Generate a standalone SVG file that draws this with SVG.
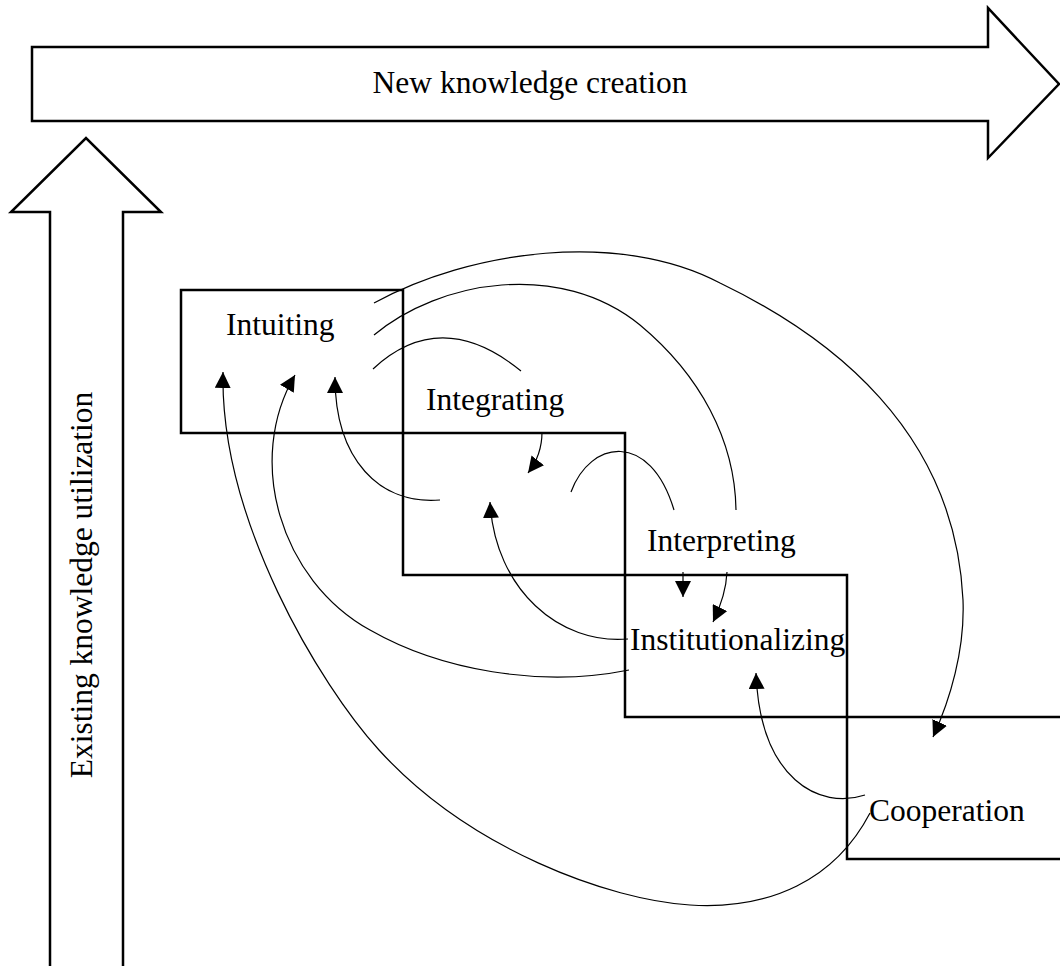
<svg xmlns="http://www.w3.org/2000/svg" width="1060" height="966" viewBox="0 0 1060 966">
<style>
.blk{fill:#fff;stroke:#000;stroke-width:2.5;stroke-linejoin:miter}
.box{fill:none;stroke:#000;stroke-width:2.5}
.lbl{font-family:"Liberation Serif","Times New Roman",serif;font-size:31.5px;fill:#000}
.c{fill:none;stroke:#000;stroke-width:1.2}
.a{marker-end:url(#ah)}
</style>
<defs>
<marker id="ah" markerUnits="userSpaceOnUse" markerWidth="16" markerHeight="16" refX="14" refY="7" orient="auto" viewBox="0 0 14 14">
<path d="M0,0 L14,7 L0,14 z" fill="#000"/>
</marker>
</defs>
<rect width="1060" height="966" fill="#fff"/>
<g id="arrow-new-knowledge">
<polygon class="blk" points="32,47 988,47 988,8 1059,84 988,158 988,121 32,121"/>
<text class="lbl" x="530" y="93" text-anchor="middle">New knowledge creation</text>
</g>
<g id="arrow-existing-knowledge">
<polygon class="blk" points="50,970 50,212 11,212 86,138 161,212 123,212 123,970"/>
<text class="lbl" transform="translate(92,585) rotate(-90)" text-anchor="middle">Existing knowledge utilization</text>
</g>
<g id="node-intuiting">
<rect class="box" x="181" y="290" width="222" height="143"/>
<text class="lbl" x="226" y="335">Intuiting</text>
</g>
<g id="node-integrating">
<rect class="box" x="403" y="433" width="222" height="142"/>
<text class="lbl" x="426" y="410">Integrating</text>
</g>
<g id="node-interpreting">
<text class="lbl" x="647" y="551">Interpreting</text>
</g>
<g id="node-institutionalizing">
<rect class="box" x="625" y="575" width="222" height="142"/>
<text class="lbl" x="630" y="650">Institutionalizing</text>
</g>
<g id="node-cooperation">
<rect class="box" x="847" y="717" width="230" height="142"/>
<text class="lbl" x="869" y="821">Cooperation</text>
</g>
<g id="connectors">
<path class="c" d="M373,369 Q441,306 521,371"/>
<path class="c a" d="M542,432 Q542,455 528,473"/>
<path class="c a" d="M440,500 C380,505 335,460 335,377"/>
<path class="c" d="M374,335 C440,280 560,260 640,325 C700,375 735,440 736,510"/>
<path class="c a" d="M374,303 C470,250 620,230 720,283 C830,336 955,430 963,600 C965,650 950,700 933,737"/>
<path class="c" d="M571,492 C590,440 650,430 674,510"/>
<path class="c a" d="M683,572 L683,597"/>
<path class="c a" d="M727,572 Q726,595 713,622"/>
<path class="c a" d="M628,639 C560,645 495,590 490,502"/>
<path class="c a" d="M629,670 C540,688 440,670 370,630 C280,580 245,460 295,375"/>
<path class="c a" d="M865,795 C820,810 760,780 756,673"/>
<path class="c a" d="M870,813 C835,880 770,910 690,905 C610,900 470,850 379,750 C320,685 220,520 223,372"/>
</g>
</svg>
